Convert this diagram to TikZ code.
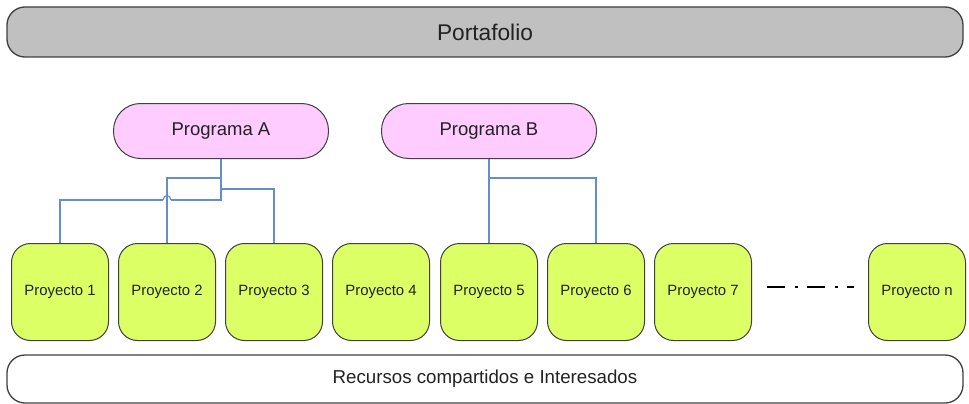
\documentclass[tikz,border=0pt]{standalone}
\usepackage{fontspec}
\setmainfont{Liberation Sans}
\usetikzlibrary{positioning}
\definecolor{bargray}{RGB}{192,192,192}
\definecolor{progpink}{RGB}{255,204,255}
\definecolor{projgreen}{RGB}{221,255,102}
\definecolor{linkblue}{RGB}{100,140,210}
\definecolor{edgegray}{RGB}{64,64,64}
\definecolor{textgray}{RGB}{34,34,34}

\begin{document}
\begin{tikzpicture}[x=1pt,y=-1pt,text=textgray,
  bar/.style={rectangle,rounded corners=18pt,draw=edgegray,line width=1.3pt,minimum width=956pt,inner sep=0},
  prog/.style={rectangle,rounded corners=27pt,draw=edgegray,line width=1pt,fill=progpink,minimum width=215pt,minimum height=55pt,inner sep=0,font=\fontsize{18.5}{22}\selectfont},
  proj/.style={rectangle,rounded corners=19pt,draw=edgegray,line width=1pt,fill=projgreen,minimum width=97pt,minimum height=97pt,inner sep=0,font=\fontsize{14.9}{18}\selectfont},
  link/.style={draw=linkblue,line width=1.2pt},
  dashdot/.style={line width=1.5pt,dash pattern=on 18pt off 10pt on 3pt off 9pt}]
\useasboundingbox (0,0) rectangle (969,404);
\node[bar,fill=bargray,minimum height=50pt,font=\fontsize{22.7}{27}\selectfont] (port) at (485,32) {Portafolio};
\node[bar,fill=white,minimum height=48pt,font=\fontsize{18.7}{22}\selectfont] (rec) at (485,379) {Recursos compartidos e Interesados};
\node[prog] (pA) at (221,131) {Programa A};
\node[prog] (pB) at (489,131) {Programa B};
\foreach \i/\x in {1/60,2/167,3/274,4/381,5/489,6/596,7/703} {
  \node[proj] (p\i) at (\x,292) {Proyecto \i};
}
\node[proj] (pn) at (917,292) {Proyecto n};
% program A links, one hop over the line to project 2
\path (pA.south) ++(0,41) coordinate (aLow);
\path (aLow -| p2.north) ++(4,0) coordinate (hopR) ++(-8,0) coordinate (hopL);
\draw[link] (pA.south) -- ++(0,19) -| (p2.north);
\draw[link] (pA.south) ++(0,30) -| (p3.north);
\draw[link] (pA.south) -- (aLow) -- (hopR);
\draw[link] (hopR) .. controls ++(-1,-6) and ++(1,-6) .. (hopL);
\draw[link] (hopL) -| (p1.north);
% program B links
\draw[link] (pB.south) -- (p5.north);
\draw[link] (pB.south) ++(0,19) -| (p6.north);
\draw[dashdot] ([xshift=15pt,yshift=5pt]p7.east) -- ([xshift=-14pt,yshift=5pt]pn.west);
\end{tikzpicture}
\end{document}
